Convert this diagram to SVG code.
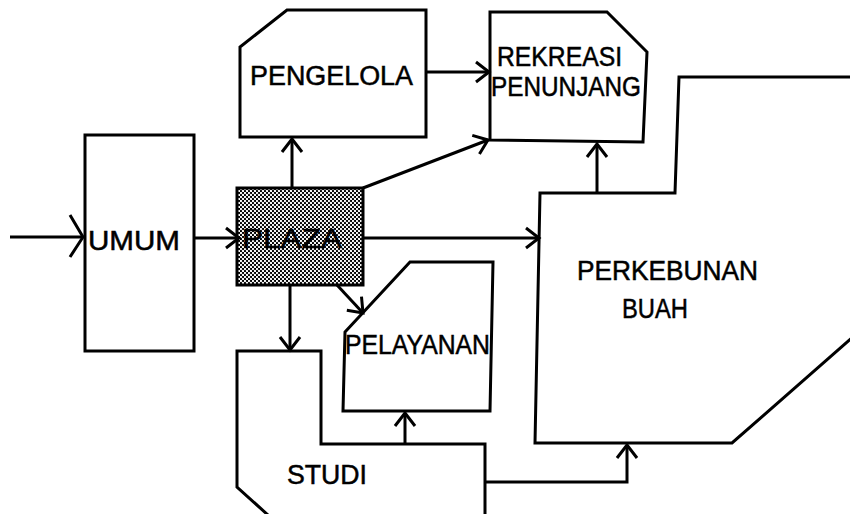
<svg xmlns="http://www.w3.org/2000/svg" width="850" height="514" viewBox="0 0 850 514">
<style>
.box{fill:#fff;stroke:#000;stroke-width:3;stroke-linejoin:miter}
.con{fill:none;stroke:#000;stroke-width:3;marker-end:url(#ah)}
.lbl{font-family:"Liberation Sans",Arial,sans-serif;fill:#000;font-size:27px;stroke:#000;stroke-width:0.5}
</style>
<defs>
<marker id="ah" markerUnits="userSpaceOnUse" viewBox="-16 -12 18 24" markerWidth="18" markerHeight="24" refX="0" refY="0" orient="auto" overflow="visible">
<path d="M-13,-10 L0,0 L-13,10" fill="none" stroke="#000" stroke-width="3"/>
</marker>
<marker id="ahBig" markerUnits="userSpaceOnUse" viewBox="-16 -24 18 48" markerWidth="18" markerHeight="48" refX="0" refY="0" orient="auto" overflow="visible">
<path d="M-13,-22 L0,0 L-13,20" fill="none" stroke="#000" stroke-width="3"/>
</marker>
<pattern id="dots" width="4" height="4" patternUnits="userSpaceOnUse">
<rect width="4" height="4" fill="#000"/>
<circle cx="1" cy="1" r="1.15" fill="#fff"/>
<circle cx="3" cy="3" r="1.15" fill="#fff"/>
</pattern>
</defs>
<rect width="850" height="514" fill="#fff"/>

<g id="pengelola">
<polygon class="box" points="240,137 240,47 287,10 426,10 426,137"/>
<text class="lbl" x="250" y="85" textLength="163" lengthAdjust="spacingAndGlyphs">PENGELOLA</text>
</g>
<g id="rekreasi">
<polygon class="box" points="490,12 607,12 647,52 643,142 490,140"/>
<text class="lbl" x="497" y="66" font-size="25" textLength="125" lengthAdjust="spacingAndGlyphs">REKREASI</text>
<text class="lbl" x="491" y="96" font-size="25" textLength="150" lengthAdjust="spacingAndGlyphs">PENUNJANG</text>
</g>
<g id="umum">
<rect class="box" x="85" y="135" width="109" height="216"/>
<text class="lbl" x="88" y="250" font-size="28" textLength="92" lengthAdjust="spacingAndGlyphs">UMUM</text>
</g>
<g id="plaza">
<rect x="237" y="188" width="126" height="97" fill="url(#dots)" stroke="#000" stroke-width="3"/>
<text class="lbl" x="242" y="248" font-size="28" textLength="100" lengthAdjust="spacingAndGlyphs">PLAZA</text>
</g>
<g id="perkebunan">
<polygon class="box" points="540,193 675,193 679,77 862,77 862,329 732,443 535,443"/>
<text class="lbl" x="577" y="280" textLength="181" lengthAdjust="spacingAndGlyphs">PERKEBUNAN</text>
<text class="lbl" x="622" y="318" textLength="66" lengthAdjust="spacingAndGlyphs">BUAH</text>
</g>
<g id="pelayanan">
<polygon class="box" points="345,332 410,262 493,262 490,411 343,411"/>
<text class="lbl" x="345" y="354" font-size="21" textLength="145" lengthAdjust="spacingAndGlyphs">PELAYANAN</text>
</g>
<g id="studi">
<polygon class="box" points="237,351 321,351 321,444 485,444 485,525 279,525 237,487"/>
<text class="lbl" x="287" y="484" textLength="80" lengthAdjust="spacingAndGlyphs">STUDI</text>
</g>

<g id="connectors">
<path class="con" d="M10,237 L83,237" marker-end="url(#ahBig)" style="marker-end:url(#ahBig)"/>
<path class="con" d="M194,238 L239,238"/>
<path class="con" d="M292,188 L292,139"/>
<path class="con" d="M426,72 L489,72"/>
<path class="con" d="M363,188 L488,140"/>
<path class="con" d="M363,238 L539,238"/>
<path class="con" d="M597,193 L597,144"/>
<path class="con" d="M290,285 L290,350"/>
<path class="con" d="M337,285 L363,313"/>
<path class="con" d="M405,444 L405,413"/>
<path class="con" d="M485,482 L627,482 L627,445"/>
</g>
</svg>
